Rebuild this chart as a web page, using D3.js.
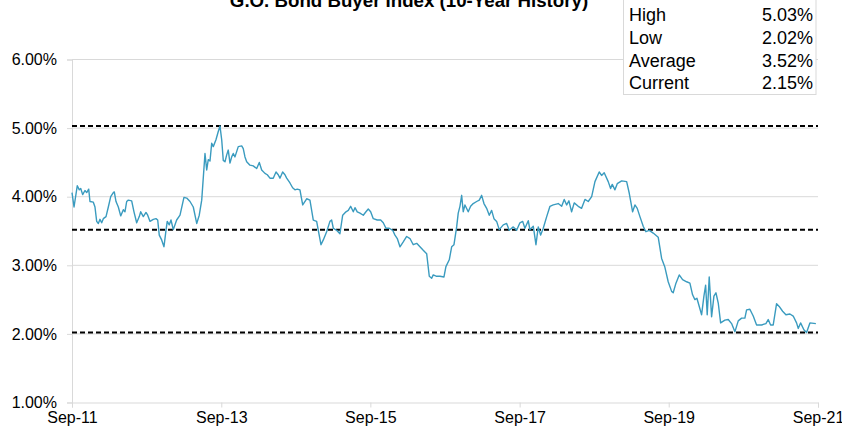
<!DOCTYPE html>
<html>
<head>
<meta charset="utf-8">
<script src="https://cdn.jsdelivr.net/npm/d3@7"></script>
<style>
  html, body { margin: 0; padding: 0; background: #fff; }
  svg { display: block; font-family: Arial, "Liberation Sans", sans-serif; }
</style>
</head>
<body>
<div id="chart"></div>
<script>
// ---- data ----
const chartTitle = "G.O. Bond Buyer Index (10-Year History)";
// years elapsed since Sep-2011 for each observation
const yearsSinceSep11 = [
  0, 0.027, 0.071, 0.098, 0.117, 0.143, 0.174, 0.197, 0.224, 0.241, 0.286, 0.308, 0.331, 0.353, 0.375, 0.398, 0.420, 0.456, 0.487, 0.519,
  0.554, 0.567, 0.590, 0.621, 0.653, 0.688, 0.710, 0.733, 0.755, 0.800, 0.831, 0.867, 0.902, 0.921, 0.956, 0.992, 1.015, 1.046, 1.090, 1.126,
  1.149, 1.170, 1.202, 1.233, 1.260, 1.277, 1.304, 1.327, 1.358, 1.403, 1.448, 1.501, 1.538, 1.582, 1.626, 1.672, 1.706, 1.739, 1.783, 1.806,
  1.827, 1.850, 1.873, 1.894, 1.930, 1.961, 1.984, 2.007, 2.028, 2.051, 2.074, 2.095, 2.118, 2.141, 2.162, 2.185, 2.229, 2.275, 2.296, 2.319,
  2.342, 2.386, 2.430, 2.476, 2.511, 2.543, 2.587, 2.618, 2.654, 2.698, 2.735, 2.765, 2.788, 2.824, 2.855, 2.878, 2.922, 2.958, 2.989, 3.020,
  3.056, 3.093, 3.146, 3.190, 3.235, 3.280, 3.302, 3.338, 3.369, 3.414, 3.458, 3.481, 3.503, 3.548, 3.592, 3.629, 3.673, 3.704, 3.736, 3.771,
  3.794, 3.824, 3.861, 3.905, 3.941, 3.972, 4.004, 4.039, 4.092, 4.138, 4.173, 4.209, 4.253, 4.299, 4.330, 4.361, 4.397, 4.441, 4.487, 4.531,
  4.575, 4.621, 4.665, 4.709, 4.755, 4.790, 4.822, 4.843, 4.889, 4.933, 4.987, 5.013, 5.058, 5.090, 5.121, 5.157, 5.178, 5.201, 5.224, 5.245,
  5.268, 5.312, 5.344, 5.379, 5.425, 5.460, 5.492, 5.523, 5.559, 5.594, 5.626, 5.657, 5.693, 5.728, 5.782, 5.827, 5.862, 5.916, 5.961, 6.005,
  6.042, 6.072, 6.117, 6.139, 6.184, 6.220, 6.251, 6.283, 6.318, 6.364, 6.408, 6.452, 6.519, 6.565, 6.599, 6.632, 6.662, 6.698, 6.733, 6.787,
  6.832, 6.877, 6.921, 6.967, 7.011, 7.068, 7.100, 7.135, 7.189, 7.221, 7.243, 7.279, 7.310, 7.369, 7.436, 7.471, 7.516, 7.547, 7.578, 7.614,
  7.658, 7.694, 7.739, 7.792, 7.859, 7.905, 7.949, 7.993, 8.039, 8.060, 8.097, 8.141, 8.186, 8.240, 8.284, 8.320, 8.351, 8.378, 8.441, 8.472,
  8.495, 8.516, 8.543, 8.575, 8.606, 8.633, 8.664, 8.696, 8.753, 8.798, 8.843, 8.887, 8.932, 8.977, 9.021, 9.044, 9.088, 9.133, 9.178, 9.245,
  9.303, 9.334, 9.366, 9.401, 9.446, 9.481, 9.527, 9.571, 9.625, 9.669, 9.714, 9.736, 9.768, 9.812, 9.848, 9.893, 9.973
];
// index yield, percent
const yieldValues = [
  4.06, 3.85, 4.16, 4.10, 4.12, 4.03, 4.09, 4.06, 4.11, 3.93, 3.92, 3.85, 3.64, 3.61, 3.67, 3.62, 3.68, 3.71, 3.85, 4.00,
  4.06, 4.07, 3.93, 3.85, 3.72, 3.81, 3.78, 3.93, 3.95, 3.94, 3.78, 3.62, 3.71, 3.78, 3.71, 3.77, 3.73, 3.64, 3.67, 3.68,
  3.66, 3.44, 3.37, 3.27, 3.51, 3.64, 3.59, 3.66, 3.52, 3.66, 3.73, 3.99, 3.98, 3.93, 3.85, 3.61, 3.73, 3.95, 4.63, 4.39,
  4.54, 4.52, 4.78, 4.73, 4.83, 4.95, 5.03, 4.83, 4.53, 4.51, 4.61, 4.68, 4.49, 4.58, 4.63, 4.58, 4.73, 4.74, 4.70, 4.58,
  4.51, 4.46, 4.45, 4.41, 4.50, 4.39, 4.34, 4.32, 4.27, 4.27, 4.36, 4.32, 4.27, 4.36, 4.32, 4.27, 4.20, 4.13, 4.10, 4.11,
  4.10, 3.88, 3.97, 3.95, 3.66, 3.64, 3.51, 3.30, 3.37, 3.49, 3.64, 3.66, 3.54, 3.51, 3.46, 3.73, 3.78, 3.80, 3.86, 3.78,
  3.84, 3.78, 3.76, 3.73, 3.78, 3.82, 3.78, 3.68, 3.66, 3.66, 3.62, 3.54, 3.54, 3.51, 3.44, 3.39, 3.27, 3.34, 3.42, 3.39,
  3.30, 3.32, 3.27, 3.22, 3.17, 2.84, 2.81, 2.86, 2.84, 2.84, 2.83, 2.98, 3.08, 3.27, 3.30, 3.56, 3.76, 3.86, 4.02, 3.78,
  3.88, 3.78, 3.86, 3.90, 3.93, 3.95, 4.02, 3.90, 3.83, 3.73, 3.80, 3.68, 3.64, 3.52, 3.59, 3.61, 3.51, 3.56, 3.51, 3.62,
  3.64, 3.54, 3.65, 3.52, 3.57, 3.30, 3.56, 3.44, 3.54, 3.71, 3.86, 3.88, 3.90, 3.86, 3.96, 3.88, 3.94, 3.78, 3.91, 3.86,
  3.83, 3.96, 3.93, 4.00, 4.22, 4.36, 4.31, 4.35, 4.22, 4.12, 4.18, 4.10, 4.19, 4.23, 4.22, 4.05, 3.78, 3.88, 3.83, 3.71,
  3.57, 3.49, 3.51, 3.47, 3.41, 3.10, 2.97, 2.76, 2.62, 2.60, 2.74, 2.86, 2.79, 2.76, 2.74, 2.57, 2.50, 2.52, 2.28, 2.55,
  2.71, 2.28, 2.83, 2.25, 2.55, 2.60, 2.45, 2.16, 2.20, 2.21, 2.15, 2.03, 2.19, 2.23, 2.23, 2.35, 2.36, 2.26, 2.13, 2.13,
  2.15, 2.21, 2.13, 2.13, 2.44, 2.40, 2.33, 2.28, 2.29, 2.26, 2.16, 2.08, 2.16, 2.06, 2.02, 2.16, 2.15
];
const statLabels = ["High", "Low", "Average", "Current"];
const statValues = [5.03, 2.02, 3.52, 2.15];
const refLineValues = [5.03, 3.52, 2.02];   // High, Average, Low dashed lines
const yTickValues = [1, 2, 3, 4, 5, 6];
const xTickYears = [2011, 2013, 2015, 2017, 2019, 2021]; // each in September

// ---- layout ----
const W = 842, H = 436;
const margin = { left: 72, right: 24, top: 59.5, bottom: 33.5 };

const svg = d3.select("#chart").append("svg").attr("width", W).attr("height", H);

const start = new Date(2011, 8, 1);
const dayMs = 86400000;
const toDate = o => new Date(start.getTime() + o * 365.25 * dayMs);
const data = yearsSinceSep11.map((o, i) => ({ date: toDate(o), value: yieldValues[i] }));

const x = d3.scaleTime()
  .domain([new Date(2011, 8, 1), new Date(2021, 8, 1)])
  .range([margin.left, W - margin.right]);
const y = d3.scaleLinear().domain([1, 6]).range([H - margin.bottom, margin.top]);

const gridColor = "#d9d9d9";

// gridlines
svg.append("g").selectAll("line").data(yTickValues.filter(v => v > 1)).join("line")
  .attr("x1", margin.left).attr("x2", W - margin.right)
  .attr("y1", d => y(d)).attr("y2", d => y(d))
  .attr("stroke", gridColor).attr("stroke-width", 1);

// y axis
const yAxis = svg.append("g").attr("transform", `translate(${margin.left},0)`)
  .call(d3.axisLeft(y).tickValues(yTickValues).tickFormat(d => d3.format(".2f")(d) + "%").tickSize(5).tickPadding(10));
yAxis.select(".domain").attr("stroke", gridColor);
yAxis.selectAll(".tick line").attr("stroke", gridColor);
yAxis.selectAll(".tick text").attr("font-size", 16).attr("fill", "#000")
  .attr("font-family", "Arial, 'Liberation Sans', sans-serif");

// x axis
const xAxis = svg.append("g").attr("transform", `translate(0,${H - margin.bottom})`)
  .call(d3.axisBottom(x).tickValues(xTickYears.map(yr => new Date(yr, 8, 1)))
    .tickFormat(d3.timeFormat("%b-%y")).tickSize(5).tickPadding(4));
xAxis.select(".domain").attr("stroke", gridColor);
xAxis.selectAll(".tick line").attr("stroke", gridColor);
xAxis.selectAll(".tick text").attr("font-size", 16).attr("fill", "#000")
  .attr("font-family", "Arial, 'Liberation Sans', sans-serif");

// reference dashed lines
svg.append("g").selectAll("line").data(refLineValues).join("line")
  .attr("x1", margin.left).attr("x2", W - margin.right)
  .attr("y1", d => y(d)).attr("y2", d => y(d))
  .attr("stroke", "#000").attr("stroke-width", 2).attr("stroke-dasharray", "5,3");

// series line
svg.append("path").datum(data)
  .attr("fill", "none").attr("stroke", "#3a9bbf").attr("stroke-width", 1.4)
  .attr("stroke-linejoin", "round")
  .attr("d", d3.line().x(d => x(d.date)).y(d => y(d.value)));

// title
svg.append("text").attr("x", 409).attr("y", 7).attr("text-anchor", "middle")
  .attr("font-size", 18.7).attr("font-weight", "bold").attr("fill", "#000")
  .text(chartTitle);

// stats box
const box = svg.append("g");
box.append("rect").attr("x", 623.5).attr("y", -1).attr("width", 192.5).attr("height", 95.5)
  .attr("fill", "#fff").attr("stroke", gridColor).attr("stroke-width", 1);
const rows = box.selectAll("g.row").data(statLabels).join("g").attr("class", "row");
rows.append("text").attr("x", 629).attr("y", (d, i) => 21 + i * 22.8)
  .attr("font-size", 18).attr("fill", "#000").text(d => d);
rows.append("text").attr("x", 813).attr("y", (d, i) => 21 + i * 22.8)
  .attr("text-anchor", "end").attr("font-size", 18).attr("fill", "#000")
  .text((d, i) => d3.format(".2f")(statValues[i]) + "%");
</script>
</body>
</html>
